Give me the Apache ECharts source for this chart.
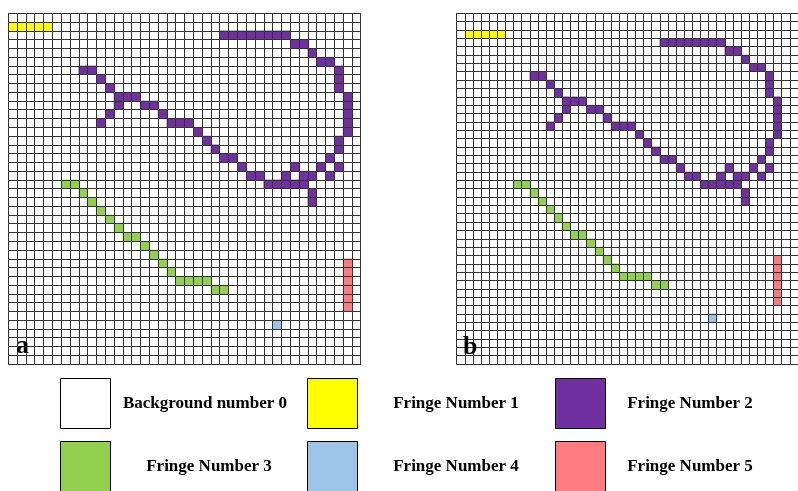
<!DOCTYPE html>
<html>
<head>
<meta charset="utf-8">
<script src="https://cdn.jsdelivr.net/npm/echarts@6/dist/echarts.min.js"></script>
<style>
    html, body { margin: 0; padding: 0; background: #fff; }
    #chart { width: 798px; height: 491px; }
</style>
</head>
<body>
<div id="chart"></div>
<script>
// fringe cells of panel a, as [column, row] (row 0 = top)
var fringe1 = [[0,1],[1,1],[2,1],[3,1],[4,1]];
var fringe2 = [
    [24,2],[25,2],[26,2],[27,2],[28,2],[29,2],[30,2],[31,2],
    [32,3],[33,3],
    [34,4],
    [35,5],[36,5],
    [8,6],[9,6],[37,6],
    [10,7],[37,7],
    [11,8],[37,8],
    [12,9],[13,9],[14,9],[38,9],
    [12,10],[15,10],[16,10],[38,10],
    [11,11],[17,11],[38,11],
    [10,12],[18,12],[19,12],[20,12],[38,12],
    [21,13],[38,13],
    [22,14],[37,14],
    [23,15],[37,15],
    [24,16],[25,16],[36,16],
    [26,17],[32,17],[35,17],[37,17],
    [27,18],[28,18],[31,18],[33,18],[34,18],[36,18],
    [29,19],[30,19],[31,19],[32,19],[33,19],
    [34,20],
    [34,21]
];
var fringe3 = [
    [6,19],[7,19],[8,20],[9,21],[10,22],[11,23],[12,24],
    [13,25],[14,25],[15,26],[16,27],[17,28],[18,29],
    [19,30],[20,30],[21,30],[22,30],[23,31],[24,31]
];
var fringe4 = [[30,35]];
var fringe5 = [[38,28],[38,29],[38,30],[38,31],[38,32],[38,33]];

var fringes = [fringe1, fringe2, fringe3, fringe4, fringe5];
var fringeColors = ['#FFFF00', '#7030A0', '#92D050', '#9DC3E6', '#FF7C80'];
var legendNames = ['Background number 0', 'Fringe Number 1', 'Fringe Number 2',
                   'Fringe Number 3', 'Fringe Number 4', 'Fringe Number 5'];
var legendColors = ['#FFFFFF'].concat(fringeColors);

// panel b is panel a padded by one cell on every side
var sizeA = 40, sizeB = 42, padB = 1;

var chart = echarts.init(document.getElementById('chart'));

function indexList(n) {
    var out = [];
    for (var i = 0; i < n; i++) out.push(i);
    return out;
}

function buildData(pad) {
    var data = [];
    for (var f = 0; f < fringes.length; f++) {
        for (var i = 0; i < fringes[f].length; i++) {
            data.push([fringes[f][i][0] + pad, fringes[f][i][1] + pad, f + 1]);
        }
    }
    return data;
}

function gridAxis(n, idx, isY) {
    return {
        type: 'category',
        gridIndex: idx,
        data: indexList(n),
        inverse: !!isY,
        z: 5,
        axisLine: { show: true, lineStyle: { color: '#333', width: 1 } },
        axisTick: { show: false },
        axisLabel: { show: false },
        splitLine: { show: true, interval: 0, lineStyle: { color: '#333', width: 1 } }
    };
}

var graphics = [
    { type: 'text', left: 16, top: 333, z: 10,
      style: { text: 'a', font: 'bold 26px "Liberation Serif"', fill: '#000' } },
    { type: 'text', left: 463, top: 334, z: 10,
      style: { text: 'b', font: 'bold 26px "Liberation Serif"', fill: '#000' } }
];

var boxX = [60, 307, 555], boxY = [378, 441], labelX = [205, 456, 690];
for (var k = 0; k < legendNames.length; k++) {
    var col = k % 3, row = Math.floor(k / 3);
    graphics.push({
        type: 'rect',
        shape: { x: boxX[col] + 0.5, y: boxY[row] + 0.5, width: 50, height: 50 },
        style: { fill: legendColors[k], stroke: '#000', lineWidth: 1 }
    });
    graphics.push({
        type: 'text',
        x: labelX[col] + (k === 3 ? 4 : 0),
        y: boxY[row] + 26,
        style: {
            text: legendNames[k],
            font: 'bold 17px "Liberation Serif"',
            fill: '#000',
            align: 'center',
            verticalAlign: 'middle'
        }
    });
}

var option = {
    animation: false,
    backgroundColor: '#fff',
    grid: [
        { left: 8.3, top: 13.3, width: 352.4, height: 350.7 },
        { left: 456.7, top: 13.3, width: 350.7, height: 350.7 }
    ],
    xAxis: [gridAxis(sizeA, 0, false), gridAxis(sizeB, 1, false)],
    yAxis: [gridAxis(sizeA, 0, true), gridAxis(sizeB, 1, true)],
    visualMap: {
        type: 'piecewise',
        show: false,
        dimension: 2,
        seriesIndex: [0, 1],
        pieces: fringeColors.map(function (c, i) { return { value: i + 1, color: c }; })
    },
    series: [
        { type: 'heatmap', xAxisIndex: 0, yAxisIndex: 0, data: buildData(0) },
        { type: 'heatmap', xAxisIndex: 1, yAxisIndex: 1, data: buildData(padB) }
    ],
    graphic: graphics
};

chart.setOption(option);
</script>
</body>
</html>
